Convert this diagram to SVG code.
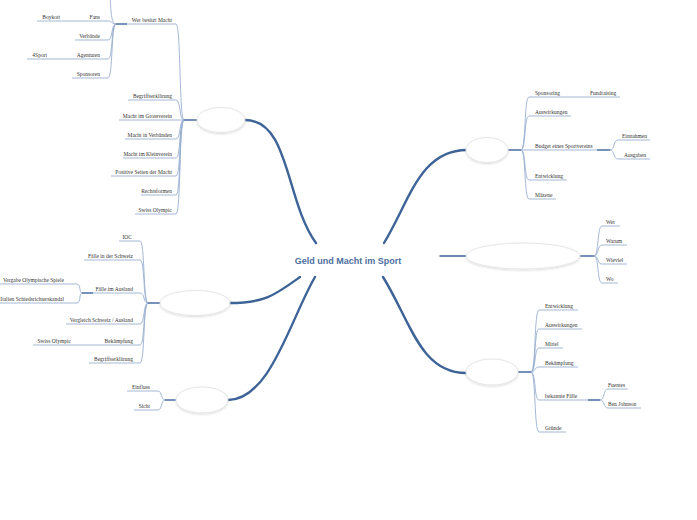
<svg xmlns="http://www.w3.org/2000/svg" width="697" height="520" viewBox="0 0 697 520">
<defs>
<filter id="sh" x="-20%" y="-30%" width="140%" height="170%"><feDropShadow dx="0" dy="1" stdDeviation="1" flood-color="#000" flood-opacity="0.15"/></filter>
</defs>
<style>
.t{font-family:"Liberation Serif","Times New Roman",serif;font-size:5.5px;fill:#333}
.e{text-anchor:end}
.c{fill:none;stroke:#98afd0;stroke-width:0.9}
.k{fill:none;stroke:#5577a6;stroke-width:1.6}
.m{fill:none;stroke:#3e6397;stroke-width:2.4;stroke-linecap:round}
.n{fill:#fff;stroke:#e6e6e6;stroke-width:1;filter:url(#sh)}
.ct{font-family:"Liberation Sans",Arial,sans-serif;font-size:9px;font-weight:bold;fill:#4d6f9e;text-anchor:middle}
</style>
<rect width="697" height="520" fill="#fff"/>
<g id="connectors">
<path class="m" d="M245,120 C290,120 285,200 316,243"/>
<path class="m" d="M467,150 C420,150 410,200 384,243"/>
<path class="m" d="M230,303 C265,303 275,295 300,277"/>
<path class="m" d="M228,400 C270,400 290,320 315,277"/>
<path class="m" d="M466,373 C420,373 410,320 383,277"/>
<path class="m" style="stroke-width:1.5" d="M440,256 L467,256"/>
<!-- n1 -->
<path class="k" d="M184,120 L197,120"/>
<path class="c" d="M127,24 L176,24 C181,24 179,120 184,120"/>
<path class="c" d="M128,100 L176,100 C181,100 179,120 184,120"/>
<path class="c" d="M119,120 L184,120"/>
<path class="c" d="M125,139 L176,139 C181,139 179,120 184,120"/>
<path class="c" d="M123,158 L176,158 C181,158 179,120 184,120"/>
<path class="c" d="M111,176 L176,176 C181,176 179,120 184,120"/>
<path class="c" d="M141,195 L176,195 C181,195 179,120 184,120"/>
<path class="c" d="M135,214 L176,214 C181,214 179,120 184,120"/>
<path class="k" d="M116,24 L127,24"/>
<path class="c" d="M116,24 C111,24 111,10 110,-4"/>
<path class="c" d="M37,21 L108,21 C113,21 111,24 116,24"/>
<path class="c" d="M75,40 L108,40 C113,40 111,24 116,24"/>
<path class="c" d="M27,59 L108,59 C113,59 111,24 116,24"/>
<path class="c" d="M72,78 L108,78 C113,78 111,24 116,24"/>
<!-- n2 -->
<path class="k" d="M148,303 L160,303"/>
<path class="c" d="M119,241 L140,241 C145,241 143,303 148,303"/>
<path class="c" d="M84,260 L140,260 C145,260 143,303 148,303"/>
<path class="c" d="M93,293 L140,293 C145,293 143,303 148,303"/>
<path class="k" d="M82,293 L93,293"/>
<path class="c" d="M0,284 L77,284 C81,284 79,293 82,293"/>
<path class="c" d="M0,303 L77,303 C81,303 79,293 82,293"/>
<path class="c" d="M66,324 L140,324 C145,324 143,303 148,303"/>
<path class="c" d="M33,345 L140,345 C145,345 143,303 148,303"/>
<path class="c" d="M89,363 L140,363 C145,363 143,303 148,303"/>
<!-- n3 -->
<path class="k" d="M165,400 L176,400"/>
<path class="c" d="M127,391 L158,391 C162,391 161,400 165,400"/>
<path class="c" d="M134,410 L158,410 C162,410 161,400 165,400"/>
<!-- n4 -->
<path class="k" d="M508,150 L521,150"/>
<path class="c" d="M521,150 C526,150 524,97 529,97 L620,97"/>
<path class="c" d="M521,150 C526,150 524,116 529,116 L571,116"/>
<path class="c" d="M521,150 L597,150"/>
<path class="k" d="M597,150 L610,150"/>
<path class="c" d="M610,150 C615,150 613,140 618,140 L650,140"/>
<path class="c" d="M610,150 C615,150 613,159 618,159 L650,159"/>
<path class="c" d="M521,150 C526,150 524,180 529,180 L567,180"/>
<path class="c" d="M521,150 C526,150 524,199 529,199 L556,199"/>
<!-- n5 -->
<path class="k" d="M580,256 L594,256"/>
<path class="c" d="M594,256 C599,256 597,226 602,226 L620,226"/>
<path class="c" d="M594,256 C599,256 597,245 602,245 L627,245"/>
<path class="c" d="M594,256 C599,256 597,264 602,264 L627,264"/>
<path class="c" d="M594,256 C599,256 597,283 602,283 L618,283"/>
<!-- n6 -->
<path class="k" d="M518,372 L531,372"/>
<path class="c" d="M531,372 C536,372 534,310 539,310 L578,310"/>
<path class="c" d="M531,372 C536,372 534,329 539,329 L582,329"/>
<path class="c" d="M531,372 C536,372 534,348 539,348 L563,348"/>
<path class="c" d="M531,372 C536,372 534,367 539,367 L578,367"/>
<path class="c" d="M531,372 C536,372 534,400 539,400 L588,400"/>
<path class="k" d="M588,400 L600,400"/>
<path class="c" d="M600,400 C605,400 603,389 608,389 L628,389"/>
<path class="c" d="M600,400 C605,400 603,408 608,408 L641,408"/>
<path class="c" d="M531,372 C536,372 534,432 539,432 L566,432"/>
</g>
<g id="center"><text class="ct" x="348" y="264">Geld und Macht im Sport</text></g>
<g id="n1">
<ellipse class="n" cx="221" cy="120" rx="24" ry="12.5"/>
<text class="t e" x="172" y="21.5">Wer besitzt Macht</text>
<text class="t e" x="172" y="97.5">Begriffserklärung</text>
<text class="t e" x="172" y="117.5">Macht im Grossverein</text>
<text class="t e" x="172" y="136.5">Macht in Verbänden</text>
<text class="t e" x="172" y="155.5">Macht im Kleinverein</text>
<text class="t e" x="172" y="173.5">Positive Seiten der Macht</text>
<text class="t e" x="172" y="192.5">Rechtsformen</text>
<text class="t e" x="172" y="211.5">Swiss Olympic</text>
<text class="t e" x="100" y="18.5">Fans</text>
<text class="t e" x="60" y="18.5">Boykott</text>
<text class="t e" x="100" y="37.5">Verbände</text>
<text class="t e" x="100" y="56.5">Agenturen</text>
<text class="t e" x="47" y="56.5">4Sport</text>
<text class="t e" x="100" y="75.5">Sponsoren</text>
</g>
<g id="n2">
<ellipse class="n" cx="195" cy="303" rx="35" ry="12.5"/>
<text class="t e" x="132" y="238.5">IOC</text>
<text class="t e" x="133" y="257.5">Fälle in der Schweiz</text>
<text class="t e" x="133" y="290.5">Fälle im Ausland</text>
<text class="t e" x="64" y="281.5">Vergabe Olympische Spiele</text>
<text class="t e" x="64" y="300.5">Italien Schiedsrichterskandal</text>
<text class="t e" x="133" y="321.5">Vergleich Schweiz / Ausland</text>
<text class="t e" x="133" y="342.5">Bekämpfung</text>
<text class="t e" x="71" y="342.5">Swiss Olympic</text>
<text class="t e" x="133" y="360.5">Begriffserklärung</text>
</g>
<g id="n3">
<ellipse class="n" cx="202" cy="400" rx="26" ry="13"/>
<text class="t e" x="150" y="388.5">Einfluss</text>
<text class="t e" x="150" y="407.5">Sicht</text>
</g>
<g id="n4">
<ellipse class="n" cx="487" cy="150" rx="21" ry="12.5"/>
<text class="t" x="535" y="94.5">Sponsoring</text>
<text class="t" x="590" y="94.5">Fundraising</text>
<text class="t" x="535" y="113.5">Auswirkungen</text>
<text class="t" x="535" y="147.5">Budget eines Sportvereins</text>
<text class="t" x="622" y="137.5">Einnahmen</text>
<text class="t" x="624" y="156.5">Ausgaben</text>
<text class="t" x="535" y="177.5">Entwicklung</text>
<text class="t" x="535" y="196.5">Mäzene</text>
</g>
<g id="n5">
<ellipse class="n" cx="523" cy="256" rx="57" ry="13"/>
<text class="t" x="606" y="223.5">Wer</text>
<text class="t" x="606" y="242.5">Warum</text>
<text class="t" x="606" y="261.5">Wieviel</text>
<text class="t" x="606" y="280.5">Wo</text>
</g>
<g id="n6">
<ellipse class="n" cx="492" cy="372" rx="26" ry="13"/>
<text class="t" x="545" y="307.5">Entwicklung</text>
<text class="t" x="545" y="326.5">Auswirkungen</text>
<text class="t" x="545" y="345.5">Mittel</text>
<text class="t" x="545" y="364.5">Bekämpfung</text>
<text class="t" x="545" y="397.5">bekannte Fälle</text>
<text class="t" x="608" y="386.5">Fuentes</text>
<text class="t" x="608" y="405.5">Ben Johnson</text>
<text class="t" x="545" y="429.5">Gründe</text>
</g>
</svg>
